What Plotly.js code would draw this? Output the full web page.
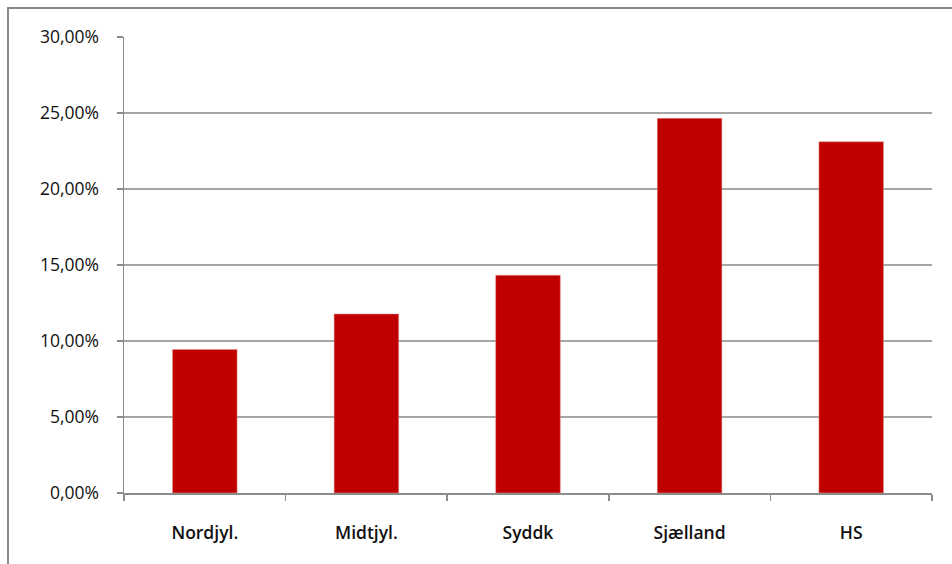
<!DOCTYPE html>
<html>
<head>
<meta charset="utf-8">
<script src="https://cdn.plot.ly/plotly-3.0.1.min.js"></script>
<style>
  html, body { margin: 0; padding: 0; background: #fff; overflow: hidden; }
  #wrap { position: relative; width: 952px; height: 564px; }
  #chart { width: 952px; height: 564px; }
  #frame { position: absolute; left: 7px; top: 7px; width: 960px; height: 580px;
           border-left: 2px solid #8a8a8a; border-top: 2px solid #8a8a8a; pointer-events: none; }
</style>
</head>
<body>
<div id="wrap">
  <div id="chart"></div>
  <div id="frame"></div>
</div>
<script>
const categories = ["Nordjyl.", "Midtjyl.", "Syddk", "Sjælland", "HS"];
const values = [9.44, 11.78, 14.33, 24.65, 23.11];
const yTicks = [0, 5, 10, 15, 20, 25, 30];
const yTickText = yTicks.map(v => v.toFixed(2).replace(".", ",") + "%");

const trace = {
  type: "bar",
  x: categories,
  y: values,
  marker: { color: "#c00000", line: { color: "#e8a0a0", width: 0.5 } },
  hoverinfo: "skip"
};

const layout = {
  width: 952,
  height: 564,
  margin: { l: 124, r: 20, t: 37, b: 71 },
  paper_bgcolor: "#ffffff",
  plot_bgcolor: "#ffffff",
  bargap: 0.6,
  showlegend: false,
  font: { family: "Open Sans, Liberation Sans, sans-serif", color: "#000000", size: 13 },
  xaxis: {
    type: "category",
    showline: true,
    linecolor: "#8c8c8c",
    linewidth: 1.5,
    showgrid: false,
    ticks: "outside",
    tickson: "boundaries",
    ticklen: 6,
    tickcolor: "#8c8c8c",
    tickwidth: 1.5,
    ticklabelstandoff: 23,
    tickfont: { size: 17.5, family: "Open Sans, sans-serif", weight: 600, color: "#111111" },
    fixedrange: true
  },
  yaxis: {
    range: [0, 30],
    tickvals: yTicks,
    ticktext: yTickText,
    showline: true,
    linecolor: "#8c8c8c",
    linewidth: 1.5,
    showgrid: true,
    gridcolor: "#a6a6a6",
    gridwidth: 1.5,
    zeroline: false,
    ticks: "outside",
    ticklen: 6,
    tickcolor: "#8c8c8c",
    tickwidth: 1.5,
    ticklabelstandoff: 14,
    tickfont: { size: 17.5, family: "Open Sans, sans-serif", color: "#111111" },
    fixedrange: true
  }
};

Plotly.newPlot("chart", [trace], layout, { displayModeBar: false, staticPlot: true });
</script>
</body>
</html>
